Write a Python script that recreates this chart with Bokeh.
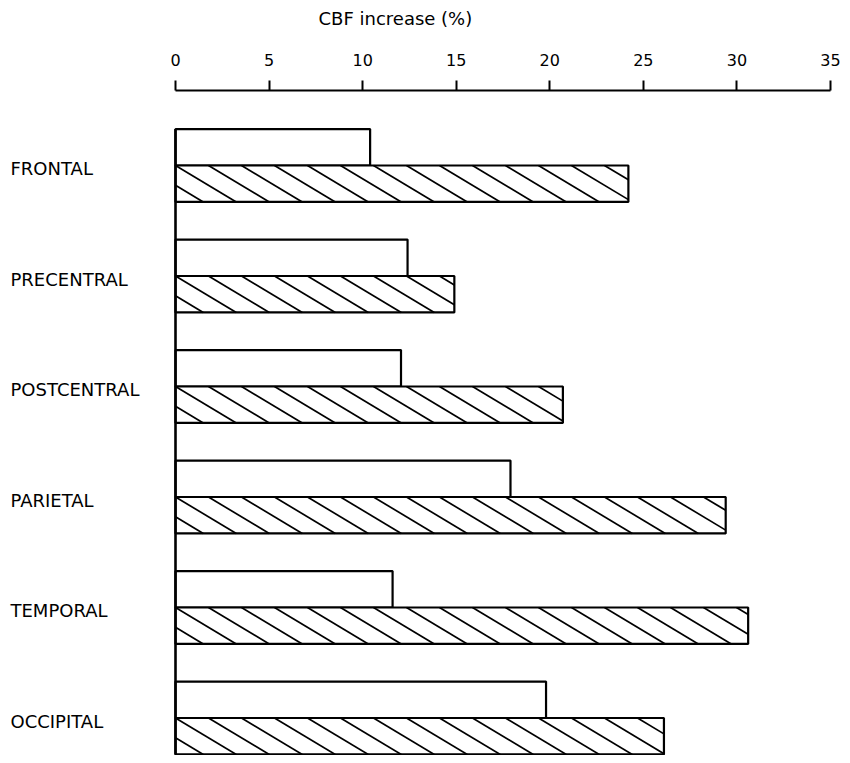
import math
from bokeh.plotting import figure
from bokeh.models import Range1d, FixedTicker
from bokeh.core.properties import value
from bokeh.embed import file_html
from bokeh.resources import INLINE

# ---- data ----
regions = ["FRONTAL", "PRECENTRAL", "POSTCENTRAL", "PARIETAL", "TEMPORAL", "OCCIPITAL"]
open_vals = [10.4, 12.4, 12.05, 17.9, 11.6, 19.8]
hatched_vals = [24.2, 14.9, 20.7, 29.4, 30.6, 26.1]
x_ticks = [0, 5, 10, 15, 20, 25, 30, 35]
title_text = "CBF increase (%)"

# ---- layout (pixel positions on the canvas) ----
W, H = 842, 755
ZERO_PX = 175          # canvas x of value 0
MAX_PX = 830           # canvas x of value 35
AXIS_PX = 90           # canvas y of the value axis line
TITLE_X_PX, TITLE_Y_PX = 318, 18
LABEL_X_PX = 10
GROUP_PX = 110.5
FIRST_PX = 165         # canvas y of first group's centre line

kx = (MAX_PX - ZERO_PX) / float(x_ticks[-1])
x_start = -ZERO_PX / kx
x_end = (W - ZERO_PX) / kx
ky = GROUP_PX
y_top = (0 - FIRST_PX) / ky
y_bot = (H - FIRST_PX) / ky
def px_to_y(py):
    return (py - FIRST_PX) / ky
def px_to_x(px):
    return (px - ZERO_PX) / kx

BAR_H = 0.33
FONT = "DejaVu Sans"

p = figure(width=W, height=H, x_range=Range1d(x_start, x_end), y_range=Range1d(y_bot, y_top),
           x_axis_location="above", y_axis_location=None, toolbar_location=None,
           output_backend="svg", min_border_left=0, min_border_right=0,
           min_border_top=0, min_border_bottom=0)
p.title.visible = False
p.outline_line_color = None
p.xgrid.visible = False
p.ygrid.visible = False
p.background_fill_color = "white"
p.border_fill_color = "white"

axis_y = px_to_y(AXIS_PX)
ax = p.xaxis[0]
ax.fixed_location = axis_y
ax.ticker = FixedTicker(ticks=x_ticks)
ax.minor_tick_line_color = None
ax.axis_line_color = None
ax.major_tick_in = 0
ax.major_tick_out = 10
ax.major_tick_line_width = 2
ax.major_tick_line_color = "black"
ax.major_label_text_font = FONT
ax.major_label_text_font_size = "16px"
ax.major_label_text_color = "black"
ax.major_label_standoff = 15

# axis base line from 0 to 35
p.segment(x0=[x_ticks[0]], y0=[axis_y], x1=[x_ticks[-1]], y1=[axis_y],
          line_color="black", line_width=2)

# axis title
p.text(x=[px_to_x(TITLE_X_PX)], y=[px_to_y(TITLE_Y_PX)], text=[title_text],
       text_font=value(FONT), text_font_size="18px", text_color="black",
       text_align="left", text_baseline="middle")

idx = list(range(len(regions)))
open_y = [i - BAR_H / 2 for i in idx]
hat_y = [i + BAR_H / 2 for i in idx]

p.hbar(y=open_y, left=0, right=open_vals, height=BAR_H, fill_color="white",
       line_color="black", line_width=2.2)
p.hbar(y=hat_y, left=0, right=hatched_vals, height=BAR_H, fill_color="white",
       line_color="black", line_width=2.2)

# hatch lines ("\" direction), computed from bar extents
m = 0.6
s = 33.0
hx0, hy0, hx1, hy1 = [], [], [], []
h_px = BAR_H * ky
for i, v in zip(idx, hatched_vals):
    w_px = v * kx
    c = math.floor((-h_px / m) / s) * s
    while c < w_px:
        xs = max(c, 0.0)
        xe = min(c + h_px / m, w_px)
        if xe > xs:
            hx0.append(xs / kx); hy0.append(i + m * (xs - c) / ky)
            hx1.append(xe / kx); hy1.append(i + m * (xe - c) / ky)
        c += s
p.segment(x0=hx0, y0=hy0, x1=hx1, y1=hy1, line_color="black", line_width=1.7)

# vertical base line
p.segment(x0=[0], y0=[idx[0] - BAR_H], x1=[0], y1=[idx[-1] + BAR_H],
          line_color="black", line_width=2.6)

# category labels
p.text(x=[px_to_x(LABEL_X_PX)] * len(regions), y=[i + 0.03 for i in idx], text=regions,
       text_font=value(FONT), text_font_size="18px", text_color="black",
       text_align="left", text_baseline="middle")

open("out.html", "w").write(file_html(p, INLINE))
